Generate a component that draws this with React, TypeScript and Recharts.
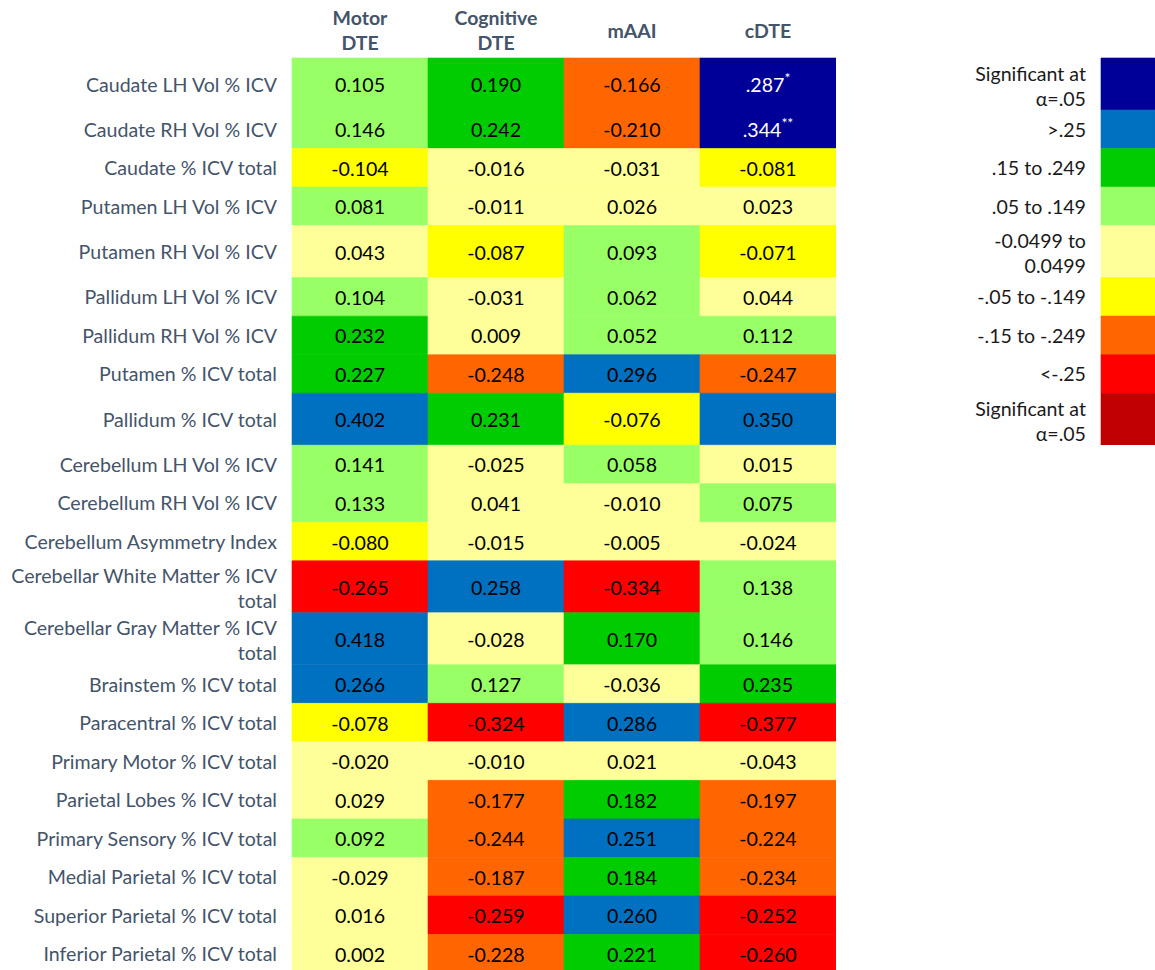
import React from "react";
import { ScatterChart, Scatter, XAxis, YAxis, ReferenceArea } from "recharts";

const columns = ["Motor\nDTE", "Cognitive\nDTE", "mAAI", "cDTE"];

const rowLabels = [
  "Caudate LH Vol % ICV",
  "Caudate RH Vol % ICV",
  "Caudate % ICV total",
  "Putamen LH Vol % ICV",
  "Putamen RH Vol % ICV",
  "Pallidum LH Vol % ICV",
  "Pallidum RH Vol % ICV",
  "Putamen % ICV total",
  "Pallidum % ICV total",
  "Cerebellum LH Vol % ICV",
  "Cerebellum RH Vol % ICV",
  "Cerebellum Asymmetry Index",
  "Cerebellar White Matter % ICV\ntotal",
  "Cerebellar Gray Matter % ICV\ntotal",
  "Brainstem % ICV total",
  "Paracentral % ICV total",
  "Primary Motor % ICV total",
  "Parietal Lobes % ICV total",
  "Primary Sensory % ICV total",
  "Medial Parietal % ICV total",
  "Superior Parietal % ICV total",
  "Inferior Parietal % ICV total",
];

const motorDTE = [
  0.105, 0.146, -0.104, 0.081, 0.043, 0.104, 0.232, 0.227, 0.402, 0.141, 0.133,
  -0.08, -0.265, 0.418, 0.266, -0.078, -0.02, 0.029, 0.092, -0.029, 0.016, 0.002,
];
const cognitiveDTE = [
  0.19, 0.242, -0.016, -0.011, -0.087, -0.031, 0.009, -0.248, 0.231, -0.025, 0.041,
  -0.015, 0.258, -0.028, 0.127, -0.324, -0.01, -0.177, -0.244, -0.187, -0.259, -0.228,
];
const mAAI = [
  -0.166, -0.21, -0.031, 0.026, 0.093, 0.062, 0.052, 0.296, -0.076, 0.058, -0.01,
  -0.005, -0.334, 0.17, -0.036, 0.286, 0.021, 0.182, 0.251, 0.184, 0.26, 0.221,
];
const cDTE = [
  0.287, 0.344, -0.081, 0.023, -0.071, 0.044, 0.112, -0.247, 0.35, 0.015, 0.075,
  -0.024, 0.138, 0.146, 0.235, -0.377, -0.043, -0.197, -0.224, -0.234, -0.252, -0.26,
];
const cDTESignificance = [
  "*", "**", "", "", "", "", "", "", "", "", "",
  "", "", "", "", "", "", "", "", "", "", "",
];

const legendLabels = [
  "Significant at\nα=.05",
  ">.25",
  ".15 to .249",
  ".05 to .149",
  "-0.0499 to\n0.0499",
  "-.05 to -.149",
  "-.15 to -.249",
  "<-.25",
  "Significant at\nα=.05",
];
const legendColors = [
  "#000099", "#0070C0", "#00CC00", "#99FF66", "#FFFF99",
  "#FFFF00", "#FF6600", "#FF0000", "#C00000",
];

// relative row heights (Excel rows)
const rowSpans = [
  1.35, 1, 1, 1, 1.35, 1, 1, 1, 1.35, 1, 1, 1, 1.35, 1.35, 1, 1, 1, 1, 1, 1, 1, 1,
];

const FONT = "Lato, 'Open Sans', sans-serif";
const FS = 19.6;
const LABEL_COLOR = "#44546A";
const HEADER_H = 58;
const CHART_H = 973;

const starts: number[] = [];
rowSpans.reduce((acc, s, i) => {
  starts[i] = acc;
  return acc + s;
}, 0);
const totalUnits = rowSpans.reduce((a, b) => a + b, 0);
const centers = rowSpans.map((s, i) => starts[i] + s / 2);
const unitPx = (CHART_H - HEADER_H) / totalUnits;

const seriesValues = [motorDTE, cognitiveDTE, mAAI, cDTE];
const seriesSig = [[], [], [], cDTESignificance] as string[][];

function cellColor(v: number, sig: string) {
  if (sig) return v > 0 ? legendColors[0] : legendColors[8];
  if (v >= 0.25) return legendColors[1];
  if (v >= 0.15) return legendColors[2];
  if (v >= 0.05) return legendColors[3];
  if (v > -0.05) return legendColors[4];
  if (v > -0.15) return legendColors[5];
  if (v > -0.25) return legendColors[6];
  return legendColors[7];
}

const cells = seriesValues.flatMap((vals, c) =>
  vals.map((v, r) => {
    const sig = seriesSig[c][r] || "";
    return {
      x: c + 0.5,
      y: centers[r],
      row: r,
      col: c,
      value: v,
      sig,
      color: cellColor(v, sig),
    };
  })
);

function twoLines(lines: string[], x: number, y: number, props: any) {
  if (lines.length === 1) {
    return (
      <text x={x} y={y} dominantBaseline="central" {...props}>
        {lines[0]}
      </text>
    );
  }
  return (
    <g>
      <text x={x} y={y - 11} dominantBaseline="central" {...props}>
        {lines[0]}
      </text>
      <text x={x} y={y + 14} dominantBaseline="central" {...props}>
        {lines[1]}
      </text>
    </g>
  );
}

const RowTick = (props: any) => {
  const { x, y, payload } = props;
  const idx = centers.findIndex((c) => Math.abs(c - payload.value) < 1e-6);
  const label = rowLabels[idx] || "";
  return twoLines(label.split("\n"), x, y, {
    textAnchor: "end",
    fill: LABEL_COLOR,
    fontSize: FS,
    fontFamily: FONT,
  });
};

const HeaderTick = (props: any) => {
  const { x, y, payload } = props;
  const idx = Math.floor(payload.value);
  const lines = (columns[idx] || "").split("\n");
  const base = { textAnchor: "middle", fill: LABEL_COLOR, fontSize: 19.5, fontWeight: 700, fontFamily: FONT };
  if (lines.length === 1) {
    return (
      <text x={x} y={y - 28} dominantBaseline="central" {...base}>
        {lines[0]}
      </text>
    );
  }
  return (
    <g>
      <text x={x} y={y - 41} dominantBaseline="central" {...base}>
        {lines[0]}
      </text>
      <text x={x} y={y - 16} dominantBaseline="central" {...base}>
        {lines[1]}
      </text>
    </g>
  );
};

const CellText = (props: any) => {
  const { cx, cy, payload } = props;
  const v: number = payload.value;
  const sig: string = payload.sig;
  const txt = sig ? v.toFixed(3).replace(/^0/, "") : v.toFixed(3);
  return (
    <text
      x={cx}
      y={cy}
      textAnchor="middle"
      dominantBaseline="central"
      fontFamily={FONT}
      fontSize={FS}
      fill={sig ? "#FFFFFF" : "#000000"}
    >
      <tspan>{txt}</tspan>
      {sig ? (
        <tspan fontSize={14} dy={-7}>
          {sig}
        </tspan>
      ) : null}
    </text>
  );
};

const legendUnits = rowSpans.slice(0, legendLabels.length);
const legendStarts = legendUnits.map((_, i) => legendUnits.slice(0, i).reduce((a, b) => a + b, 0));
const legendTotal = legendUnits.reduce((a, b) => a + b, 0);
const legendCenters = legendUnits.map((s, i) => legendStarts[i] + s / 2);
const legendPoints = legendCenters.map((c, i) => ({ x: 0.5, y: c, i }));

const LegendTick = (props: any) => {
  const { x, y, payload } = props;
  const idx = legendCenters.findIndex((c) => Math.abs(c - payload.value) < 1e-6);
  const label = legendLabels[idx] || "";
  return twoLines(label.split("\n"), x, y, {
    textAnchor: "end",
    fill: "#1a1a1a",
    fontSize: FS,
    fontFamily: FONT,
  });
};

export default function App() {
  return (
    <div
      style={{
        position: "absolute",
        left: 0,
        top: 0,
        width: 1155,
        height: 970,
        overflow: "hidden",
        background: "#fff",
      }}
    >
      <div style={{ position: "absolute", left: 0, top: 0 }}>
        <ScatterChart width={836} height={CHART_H} margin={{ top: 0, right: 0, bottom: 0, left: 0 }}>
          <XAxis
            type="number"
            dataKey="x"
            orientation="top"
            domain={[0, columns.length]}
            ticks={columns.map((_, i) => i + 0.5)}
            interval={0}
            height={HEADER_H}
            axisLine={false}
            tickLine={false}
            tickSize={0}
            tickMargin={0}
            tick={<HeaderTick />}
          />
          <YAxis
            type="number"
            dataKey="y"
            domain={[0, totalUnits]}
            reversed
            ticks={centers}
            interval={0}
            width={292}
            axisLine={false}
            tickLine={false}
            tickSize={0}
            tickMargin={15}
            tick={<RowTick />}
          />
          {cells.map((d) => (
            <ReferenceArea
              key={`${d.row}-${d.col}`}
              x1={d.col}
              x2={d.col + 1}
              y1={starts[d.row]}
              y2={starts[d.row] + rowSpans[d.row]}
              fill={d.color}
              fillOpacity={1}
              stroke={d.color}
              strokeWidth={0.6}
              ifOverflow="visible"
            />
          ))}
          <Scatter data={cells} shape={<CellText />} isAnimationActive={false} />
        </ScatterChart>
      </div>
      <div style={{ position: "absolute", left: 940, top: 0 }}>
        <ScatterChart
          width={215}
          height={HEADER_H + legendTotal * unitPx}
          margin={{ top: HEADER_H, right: 0, bottom: 0, left: 0 }}
        >
          <XAxis type="number" dataKey="x" domain={[0, 1]} hide />
          <YAxis
            type="number"
            dataKey="y"
            domain={[0, legendTotal]}
            reversed
            ticks={legendCenters}
            interval={0}
            width={161}
            axisLine={false}
            tickLine={false}
            tickSize={0}
            tickMargin={15}
            tick={<LegendTick />}
          />
          {legendColors.map((col, i) => (
            <ReferenceArea
              key={i}
              x1={0}
              x2={1}
              y1={legendStarts[i]}
              y2={legendStarts[i] + legendUnits[i]}
              fill={col}
              fillOpacity={1}
              stroke={col}
              strokeWidth={0.6}
              ifOverflow="visible"
            />
          ))}
          <Scatter data={legendPoints} shape={() => <g />} isAnimationActive={false} />
        </ScatterChart>
      </div>
    </div>
  );
}
